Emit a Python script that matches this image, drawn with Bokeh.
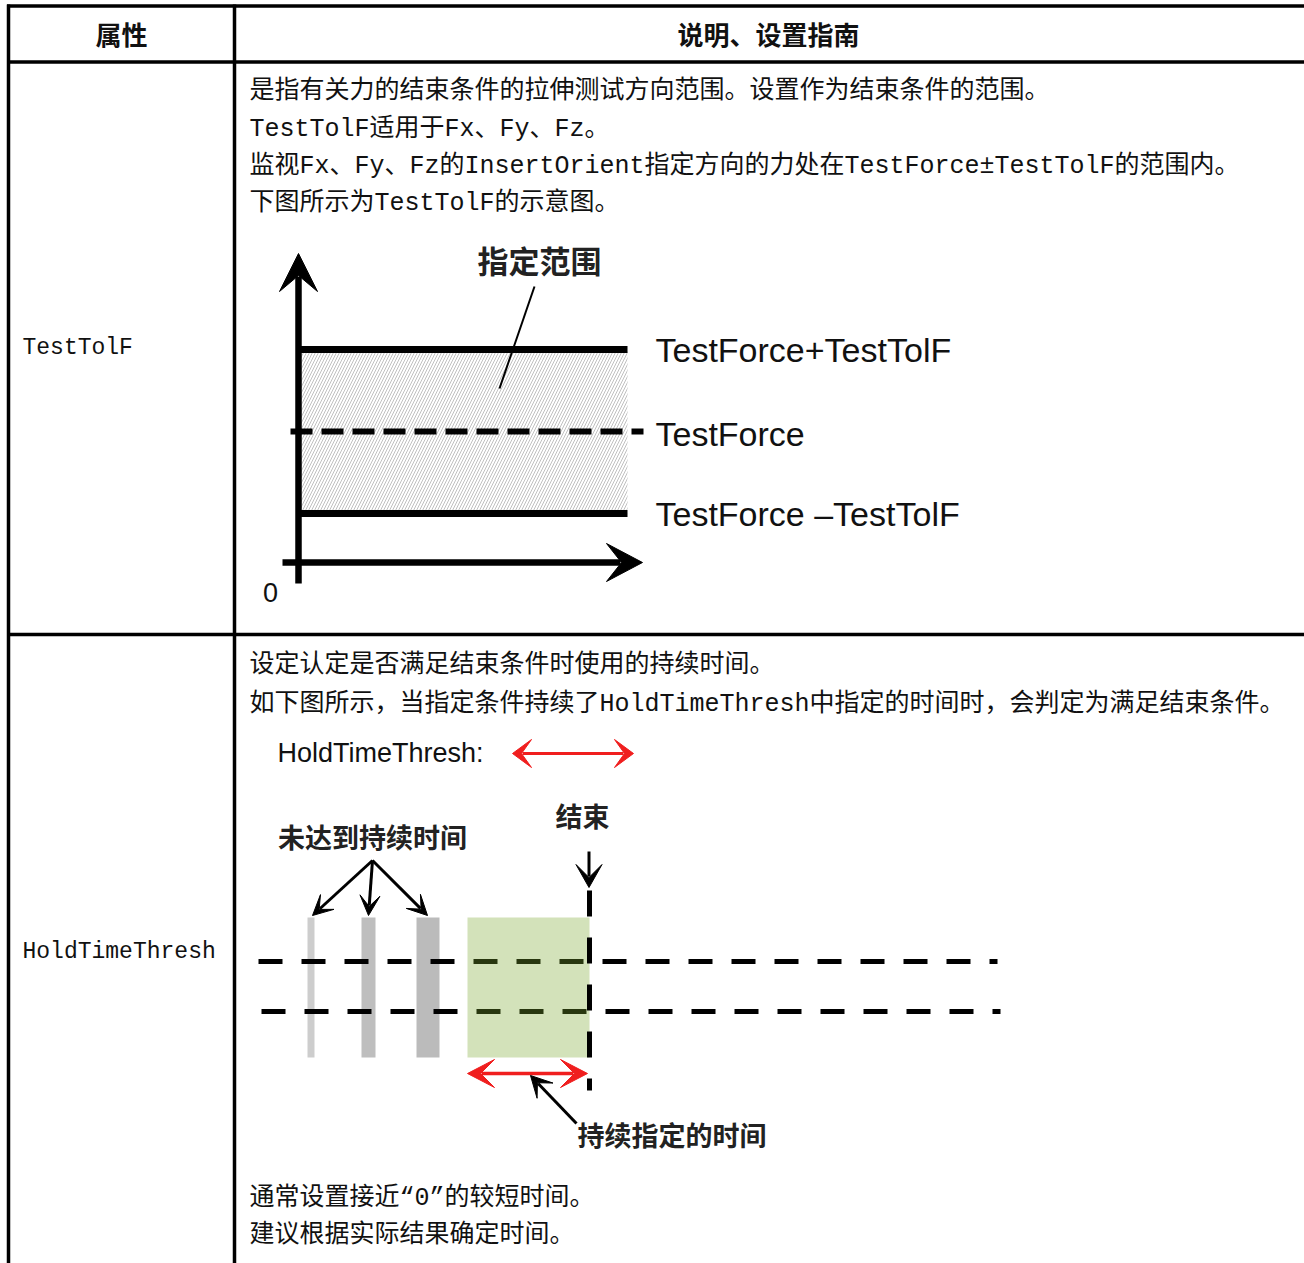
import math
from bokeh.plotting import figure
from bokeh.models import Range1d
from bokeh.core.properties import value
from bokeh.embed import file_html
from bokeh.resources import INLINE

# ---------------- text content ----------------
header_labels = ["属性", "说明、设置指南"]
row_labels = ["TestTolF", "HoldTimeThresh"]
tol_desc = [
    "是指有关力的结束条件的拉伸测试方向范围。设置作为结束条件的范围。",
    "TestTolF适用于Fx、Fy、Fz。",
    "监视Fx、Fy、Fz的InsertOrient指定方向的力处在TestForce±TestTolF的范围内。",
    "下图所示为TestTolF的示意图。",
]
hold_desc_top = [
    "设定认定是否满足结束条件时使用的持续时间。",
    "如下图所示，当指定条件持续了HoldTimeThresh中指定的时间时，会判定为满足结束条件。",
]
hold_desc_bottom = [
    "通常设置接近“0”的较短时间。",
    "建议根据实际结果确定时间。",
]
range_label = "指定范围"
origin_label = "0"
band_labels = ["TestForce+TestTolF", "TestForce", "TestForce –TestTolF"]
hold_key_label = "HoldTimeThresh:"
end_label = "结束"
short_label = "未达到持续时间"
kept_label = "持续指定的时间"

# ---------------- layout (page pixel coordinates) ----------------
W, H = 1304, 1263
XL, XR, YT, YB = 0, W, 0, H

table_hlines_y = [5.5, 61.5, 634]
table_vlines_x = [8, 234]
header_pos = [(121, 33), (768, 33)]
label_pos = [(22, 347), (22, 951)]
tol_desc_y = [91, 129, 166, 203]
hold_top_y = [665, 704]
hold_bottom_y = [1198, 1235]
desc_x = 249

# diagram 1
band_x = [298, 627]
band_y = [349, 431, 513]          # upper, nominal, lower
dash_x = [290, 643]
y_axis = dict(x=298, y0=583, y1=253)
x_axis = dict(y=562, x0=282, x1=642)
leader = [(534, 286), (499, 388)]
range_label_pos = (539, 259)
origin_pos = (270, 592)
band_label_x = 655
band_label_y = [349, 433, 513]

# diagram 2
key_label_pos = (277, 752)
key_arrow = dict(y=753, x0=512, x1=633)
end_label_pos = (582, 815)
short_label_pos = (372, 836)
short_src = (372, 860)
short_tips = [(312, 915), (368, 915), (427, 915)]
end_arrow = dict(x=588.5, y0=851, y1=887)
bars_x = [(307, 314), (361, 375), (416, 439)]
bars_color = ["#cdcdcd", "#bebebe", "#bbbbbb"]
bars_y = (917, 1057)
box_x = (467, 589)
box_y = (917, 1057)
hdash_y = [961, 1011]
hdash_x = [(258, 997), (261, 1000)]
vdash = dict(x=589, y0=890, y1=1090)
kept_arrow = dict(y=1073, x0=467, x1=587)
pointer = [(576, 1123), (530, 1075)]
kept_label_pos = (577, 1134)

BODY = value("Liberation Mono, Noto Sans CJK SC")
MONO = value("Liberation Mono")
CJK = value("Noto Sans CJK SC")
SANS = value("Liberation Sans")
RED = "#f01e1e"

p = figure(width=W, height=H, x_range=Range1d(XL, XR), y_range=Range1d(YB, YT),
           x_axis_type=None, y_axis_type=None, toolbar_location=None,
           output_backend="svg", min_border=0, outline_line_color=None,
           background_fill_color="white", border_fill_color="white")
p.grid.visible = False


def head(tip, tail, L, Wd, N, color):
    dx, dy = tip[0] - tail[0], tip[1] - tail[1]
    d = math.hypot(dx, dy)
    ux, uy = dx / d, dy / d
    nx, ny = -uy, ux
    bx, by = tip[0] - L * ux, tip[1] - L * uy
    xs = [tip[0], bx + Wd * nx, tip[0] - N * ux, bx - Wd * nx]
    ys = [tip[1], by + Wd * ny, tip[1] - N * uy, by - Wd * ny]
    p.patch(xs, ys, fill_color=color, line_color=color, line_width=1)
    return (tip[0] - (N + 1) * ux, tip[1] - (N + 1) * uy)


def arrow(tail, tip, L, Wd, N, color, lw, both=False):
    end = head(tip, tail, L, Wd, N, color)
    start = tail
    if both:
        start = head(tail, tip, L, Wd, N, color)
    p.line([start[0], end[0]], [start[1], end[1]], line_color=color,
           line_width=lw, line_cap="butt")


# ---------------- table grid ----------------
for yy in table_hlines_y:
    p.line([table_vlines_x[0] - 1.5, XR], [yy, yy], line_color="black", line_width=3.5)
for xx in table_vlines_x:
    p.line([xx, xx], [table_hlines_y[0] - 1.5, YB], line_color="black", line_width=3.5)

# header
p.text(x=[q[0] for q in header_pos], y=[q[1] for q in header_pos], text=header_labels,
       text_font=CJK, text_font_style="bold", text_font_size="26px",
       text_align="center", text_baseline="middle", text_color="#111111")
# row labels
p.text(x=[q[0] for q in label_pos], y=[q[1] for q in label_pos], text=row_labels,
       text_font=MONO, text_font_size="23px", text_align="left",
       text_baseline="middle", text_color="#111111")
# descriptions
p.text(x=[desc_x] * len(tol_desc), y=tol_desc_y, text=tol_desc, text_font=BODY,
       text_font_size="25px", text_align="left", text_baseline="middle",
       text_color="#111111")
p.text(x=[desc_x] * 2, y=hold_top_y, text=hold_desc_top, text_font=BODY,
       text_font_size="25px", text_align="left", text_baseline="middle",
       text_color="#111111")
p.text(x=[desc_x] * 2, y=hold_bottom_y, text=hold_desc_bottom, text_font=BODY,
       text_font_size="25px", text_align="left", text_baseline="middle",
       text_color="#111111")

# ---------------- diagram 1: TestTolF ----------------
p.quad(left=band_x[0], right=band_x[1], top=band_y[0], bottom=band_y[2],
       fill_color="white", hatch_pattern="/", hatch_color="#c0c0c0",
       hatch_scale=6, hatch_weight=1, line_color=None)
for yy in (band_y[0], band_y[2]):
    p.line(band_x, [yy, yy], line_color="black", line_width=7, line_cap="butt")
p.line(dash_x, [band_y[1], band_y[1]], line_color="black", line_width=6,
       line_dash="22 9", line_cap="butt")
arrow((y_axis["x"], y_axis["y0"]), (y_axis["x"], y_axis["y1"]), 38, 19, 22, "black", 6.5)
arrow((x_axis["x0"], x_axis["y"]), (x_axis["x1"], x_axis["y"]), 36, 19, 21, "black", 6.5)
p.line([leader[0][0], leader[1][0]], [leader[0][1], leader[1][1]],
       line_color="black", line_width=2)
p.text(x=[range_label_pos[0]], y=[range_label_pos[1]], text=[range_label],
       text_font=CJK, text_font_style="bold", text_font_size="31px",
       text_align="center", text_baseline="middle", text_color="#222222")
p.text(x=[origin_pos[0]], y=[origin_pos[1]], text=[origin_label], text_font=SANS,
       text_font_size="27px", text_align="center", text_baseline="middle",
       text_color="#111111")
p.text(x=[band_label_x] * 3, y=band_label_y, text=band_labels, text_font=SANS,
       text_font_size="34px", text_align="left", text_baseline="middle",
       text_color="#111111")

# ---------------- diagram 2: HoldTimeThresh ----------------
p.text(x=[key_label_pos[0]], y=[key_label_pos[1]], text=[hold_key_label],
       text_font=SANS, text_font_size="27px", text_align="left",
       text_baseline="middle", text_color="#111111")
arrow((key_arrow["x0"], key_arrow["y"]), (key_arrow["x1"], key_arrow["y"]),
      19, 14, 9, RED, 3, both=True)
p.text(x=[end_label_pos[0]], y=[end_label_pos[1]], text=[end_label],
       text_font=CJK, text_font_style="bold", text_font_size="27px",
       text_align="center", text_baseline="middle", text_color="#222222")
p.text(x=[short_label_pos[0]], y=[short_label_pos[1]], text=[short_label],
       text_font=CJK, text_font_style="bold", text_font_size="27px",
       text_align="center", text_baseline="middle", text_color="#222222")
for t in short_tips:
    arrow(short_src, t, 20, 10, 9, "black", 3)
arrow((end_arrow["x"], end_arrow["y0"]), (end_arrow["x"], end_arrow["y1"]),
      23, 13, 10, "black", 3)

for (b0, b1), c in zip(bars_x, bars_color):
    p.quad(left=b0, right=b1, top=bars_y[0], bottom=bars_y[1], fill_color=c,
           line_color=None)
for yy, (x0, x1) in zip(hdash_y, hdash_x):
    p.line([x0, x1], [yy, yy], line_color="black", line_width=5,
           line_dash="24 19", line_cap="butt")
p.quad(left=box_x[0], right=box_x[1], top=box_y[0], bottom=box_y[1],
       fill_color="#79a72d", fill_alpha=0.33, line_color=None)
p.line([vdash["x"], vdash["x"]], [vdash["y0"], vdash["y1"]], line_color="black",
       line_width=5, line_dash="26 21", line_cap="butt")
arrow((kept_arrow["x0"], kept_arrow["y"]), (kept_arrow["x1"], kept_arrow["y"]),
      27, 14, 13, RED, 3.5, both=True)
arrow(pointer[0], pointer[1], 21, 11, 10, "black", 3)
p.text(x=[kept_label_pos[0]], y=[kept_label_pos[1]], text=[kept_label],
       text_font=CJK, text_font_style="bold", text_font_size="27px",
       text_align="left", text_baseline="middle", text_color="#222222")

open("out.html", "w").write(file_html(p, INLINE))
